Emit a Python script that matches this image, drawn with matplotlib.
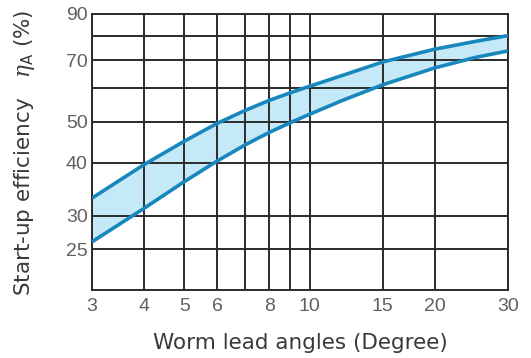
import matplotlib
matplotlib.use("Agg")
import matplotlib.pyplot as plt
from matplotlib.ticker import FixedLocator, NullLocator, FixedFormatter

plt.rcParams["font.family"] = ["Liberation Sans", "DejaVu Sans"]
plt.rcParams["mathtext.fontset"] = "custom"
plt.rcParams["mathtext.it"] = "DejaVu Serif:italic"
plt.rcParams["mathtext.rm"] = "DejaVu Sans"

# Lead angle (degrees) and start-up efficiency band limits (%)
lead_angles = [3, 4, 5, 6, 7, 8, 9, 10, 12, 15, 20, 25, 30]
eff_upper = [33.0, 39.6, 45.0, 49.6, 53.2, 56.2, 58.6, 60.7, 64.4, 69.3, 74.3, 77.5, 80.0]
eff_lower = [26.0, 31.2, 36.1, 40.4, 44.1, 47.2, 49.8, 52.1, 56.2, 61.2, 67.1, 71.0, 73.6]

x_ticks = [3, 4, 5, 6, 8, 10, 15, 20, 30]
x_grid = [3, 4, 5, 6, 7, 8, 9, 10, 15, 20, 30]
y_ticks = [25, 30, 40, 50, 70, 90]
y_grid = [25, 30, 40, 50, 60, 70, 80, 90]

W, H = 531, 358
fig = plt.figure(figsize=(W / 100, H / 100), dpi=100)
ax = fig.add_axes([92 / W, 1 - 290 / H, (508 - 92) / W, (290 - 14) / H])

ax.set_xscale("log")
ax.set_yscale("log")
ax.set_xlim(3, 30)
ax.set_ylim(20, 90)

grid_color = "#2b2b2b"
for gx in x_grid:
    ax.axvline(gx, color=grid_color, lw=1.4, zorder=1)
for gy in y_grid:
    ax.axhline(gy, color=grid_color, lw=1.4, zorder=1)

ax.fill_between(lead_angles, eff_lower, eff_upper, color="#c6e9f7", zorder=0.5, lw=0)
for series in (eff_upper, eff_lower):
    ax.plot(lead_angles, series, color="#1787bd", lw=2.6, zorder=3,
            solid_capstyle="butt", solid_joinstyle="round")

ax.xaxis.set_major_locator(FixedLocator(x_ticks))
ax.xaxis.set_major_formatter(FixedFormatter([str(v) for v in x_ticks]))
ax.xaxis.set_minor_locator(NullLocator())
ax.yaxis.set_major_locator(FixedLocator(y_ticks))
ax.yaxis.set_major_formatter(FixedFormatter([str(v) for v in y_ticks]))
ax.yaxis.set_minor_locator(NullLocator())

label_color = "#606060"
ax.tick_params(axis="both", length=0, labelsize=14, labelcolor=label_color)
ax.tick_params(axis="x", pad=6)
ax.tick_params(axis="y", pad=3)
for s in ax.spines.values():
    s.set_color(grid_color)
    s.set_linewidth(1.4)

text_color = "#3a3a3a"
fig.text(300 / W, 1 - 343 / H, "Worm lead angles (Degree)", fontsize=15.5,
         family="DejaVu Sans", color=text_color, ha="center", va="center")
fig.text(25 / W, 1 - 153 / H, r"Start-up efficiency   $\eta_{\rm A}$ (%)", fontsize=15.5,
         family="DejaVu Sans", color=text_color, ha="center", va="center", rotation=90)

fig.savefig("out.png", dpi=100, facecolor="white")
